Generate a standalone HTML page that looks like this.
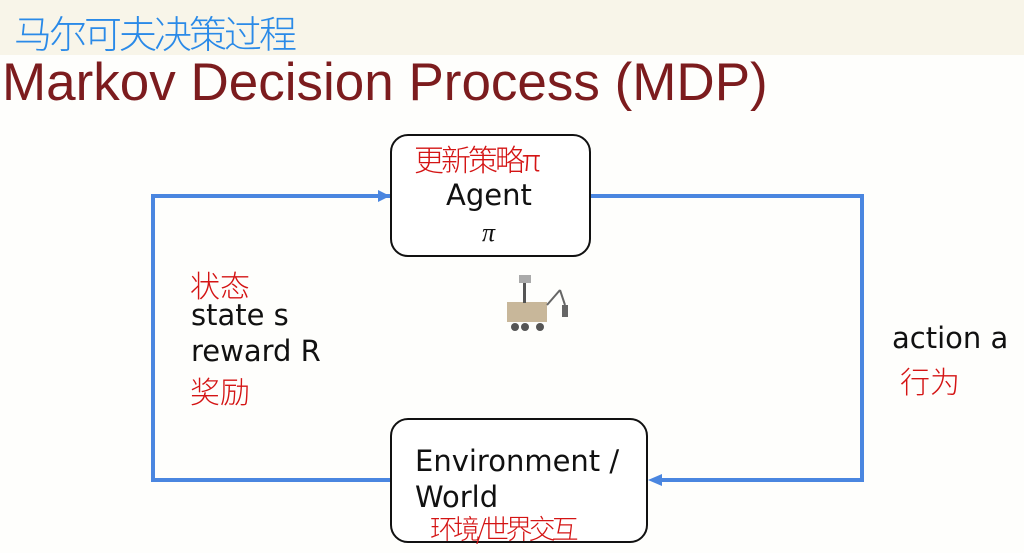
<!DOCTYPE html>
<html><head><meta charset="utf-8"><style>
body{margin:0;width:1024px;height:553px;overflow:hidden;background:#fefefc;font-family:"DejaVu Sans",sans-serif;position:relative}
.top{position:absolute;left:0;top:0;width:1024px;height:55px;background:#f8f5e9}
.t{position:absolute;white-space:nowrap}
.box{position:absolute;border:2.5px solid #111;border-radius:18px;background:#fff;box-sizing:border-box}
.hw{font-family:"Noto Sans CJK SC","WenQuanYi Zen Hei",sans-serif;font-weight:300}
</style></head><body>
<div class="top"></div>
<div class="t hw" style="left:14px;top:4px;font-size:38px;color:#2a8ae8;letter-spacing:-3px">马尔可夫决策过程</div>
<div class="t" style="left:2px;top:52px;font-size:53px;color:#7c1c1e;font-family:'Liberation Sans',sans-serif">Markov Decision Process (MDP)</div>
<svg width="1024" height="553" style="position:absolute;left:0;top:0">
<g stroke="#4a86e0" stroke-width="4" fill="none">
<polyline points="390,196 153,196 153,480 390,480"/>
<polyline points="590,196 862,196 862,480 660,480"/>
</g>
<polygon points="390,196 378,190 378,202" fill="#4a86e0"/>
<polygon points="648,480 662,474 662,486" fill="#4a86e0"/>
<g transform="translate(505,275)">
<rect x="2" y="27" width="40" height="20" fill="#c8b79a"/>
<rect x="18" y="8" width="3" height="20" fill="#555"/>
<rect x="14" y="0" width="12" height="8" fill="#aaa"/>
<line x1="42" y1="30" x2="55" y2="15" stroke="#666" stroke-width="2"/>
<line x1="55" y1="15" x2="60" y2="30" stroke="#666" stroke-width="2"/>
<rect x="57" y="30" width="6" height="12" fill="#666"/>
<circle cx="10" cy="52" r="4" fill="#555"/><circle cx="20" cy="52" r="4" fill="#555"/><circle cx="35" cy="52" r="4" fill="#555"/>
</g>
</svg>
<div class="box" style="left:390px;top:134px;width:201px;height:123px"></div>
<div class="box" style="left:390px;top:418px;width:258px;height:125px"></div>
<div class="t hw" style="left:414px;top:136px;font-size:30px;color:#d41414;letter-spacing:-3px">更新策略π</div>
<div class="t" style="left:446px;top:178px;font-size:29px;color:#111">Agent</div>
<div class="t" style="left:482px;top:218px;font-size:26px;color:#111;font-family:'Liberation Serif',serif;font-style:italic">π</div>
<div class="t" style="left:415px;top:444px;font-size:29px;color:#111">Environment /</div>
<div class="t" style="left:415px;top:480px;font-size:29px;color:#111">World</div>
<div class="t hw" style="left:430px;top:508px;font-size:27px;color:#d41414;letter-spacing:-4px">环境/世界交互</div>
<div class="t hw" style="left:190px;top:262px;font-size:30px;color:#d41414">状态</div>
<div class="t" style="left:191px;top:298px;font-size:29px;color:#111">state s</div>
<div class="t" style="left:191px;top:334px;font-size:29px;color:#111">reward R</div>
<div class="t hw" style="left:190px;top:368px;font-size:30px;color:#d41414">奖励</div>
<div class="t" style="left:892px;top:321px;font-size:29px;color:#111">action a</div>
<div class="t hw" style="left:900px;top:358px;font-size:30px;color:#d41414">行为</div>
</body></html>
